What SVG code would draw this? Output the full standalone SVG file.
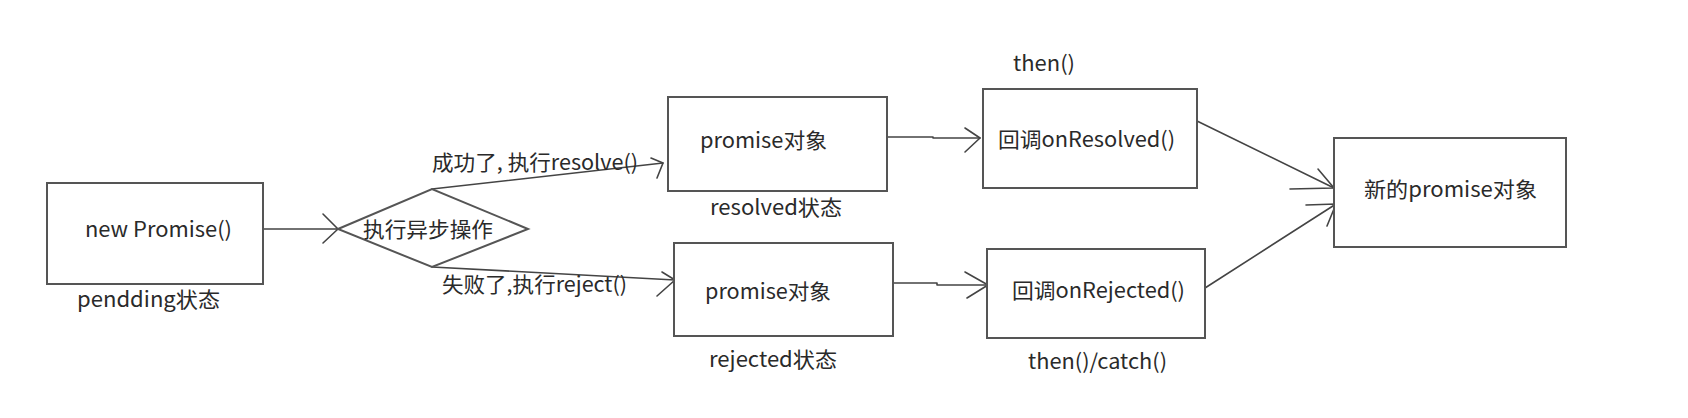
<svg xmlns="http://www.w3.org/2000/svg" width="1688" height="418" viewBox="0 0 1688 418">
<style>
.box{fill:#fff;stroke:#555;stroke-width:2}
.ln{fill:none;stroke:#444;stroke-width:1.6;stroke-linecap:round;stroke-linejoin:round}
.t{font-family:"Microsoft YaHei","Noto Sans CJK SC","Noto Sans",sans-serif;font-size:21px;fill:#2a2a2a}
</style>
<rect width="1688" height="418" fill="#fff"/>
<g id="connectors">
<polyline class="ln" points="263,229 338,229"/>
<polyline class="ln" points="323,214 338,229 323,243"/>
<polyline class="ln" points="432,189 663,163"/>
<polyline class="ln" points="651,158 663,163 657,178"/>
<polyline class="ln" points="432,267 675,280"/>
<polyline class="ln" points="662,272 675,280 657,296"/>
<polyline class="ln" points="887,137 933,137 933,138 980,138"/>
<polyline class="ln" points="965,128 980,138 965,152"/>
<polyline class="ln" points="893,283 937,283 937,285 988,285"/>
<polyline class="ln" points="965,272 988,285 967,298"/>
<polyline class="ln" points="1197,121 1334,188"/>
<polyline class="ln" points="1318,169 1334,188 1290,189"/>
<polyline class="ln" points="1205,288 1336,204"/>
<polyline class="ln" points="1306,205 1336,204 1327,226"/>
</g>
<g id="labels">
<text class="t" x="432" y="170" textLength="206" lengthAdjust="spacingAndGlyphs">成功了, 执行resolve()</text>
<text class="t" x="442" y="292" textLength="185" lengthAdjust="spacingAndGlyphs">失败了,执行reject()</text>
</g>
<g id="n-new-promise">
<rect class="box" x="47" y="183" width="216" height="101"/>
<text class="t" x="85" y="237" textLength="147" lengthAdjust="spacingAndGlyphs">new Promise()</text>
<text class="t" x="77" y="307" textLength="143" lengthAdjust="spacingAndGlyphs">pendding状态</text>
</g>
<g id="n-async">
<polygon class="box" points="338,229 432,189 528,229 432,267"/>
<text class="t" x="363" y="237" textLength="130" lengthAdjust="spacingAndGlyphs">执行异步操作</text>
</g>
<g id="n-resolved">
<rect class="box" x="668" y="97" width="219" height="94"/>
<text class="t" x="700" y="148" textLength="127" lengthAdjust="spacingAndGlyphs">promise对象</text>
<text class="t" x="710" y="215" textLength="132" lengthAdjust="spacingAndGlyphs">resolved状态</text>
</g>
<g id="n-rejected">
<rect class="box" x="674" y="243" width="219" height="93"/>
<text class="t" x="705" y="299" textLength="126" lengthAdjust="spacingAndGlyphs">promise对象</text>
<text class="t" x="709" y="367" textLength="128" lengthAdjust="spacingAndGlyphs">rejected状态</text>
</g>
<g id="n-onresolved">
<rect class="box" x="983" y="89" width="214" height="99"/>
<text class="t" x="998" y="147" textLength="177" lengthAdjust="spacingAndGlyphs">回调onResolved()</text>
<text class="t" x="1013" y="71" textLength="62" lengthAdjust="spacingAndGlyphs">then()</text>
</g>
<g id="n-onrejected">
<rect class="box" x="987" y="249" width="218" height="89"/>
<text class="t" x="1012" y="298" textLength="173" lengthAdjust="spacingAndGlyphs">回调onRejected()</text>
<text class="t" x="1028" y="369" textLength="139" lengthAdjust="spacingAndGlyphs">then()/catch()</text>
</g>
<g id="n-new-promise-obj">
<rect class="box" x="1334" y="138" width="232" height="109"/>
<text class="t" x="1364" y="197" textLength="173" lengthAdjust="spacingAndGlyphs">新的promise对象</text>
</g>
</svg>
